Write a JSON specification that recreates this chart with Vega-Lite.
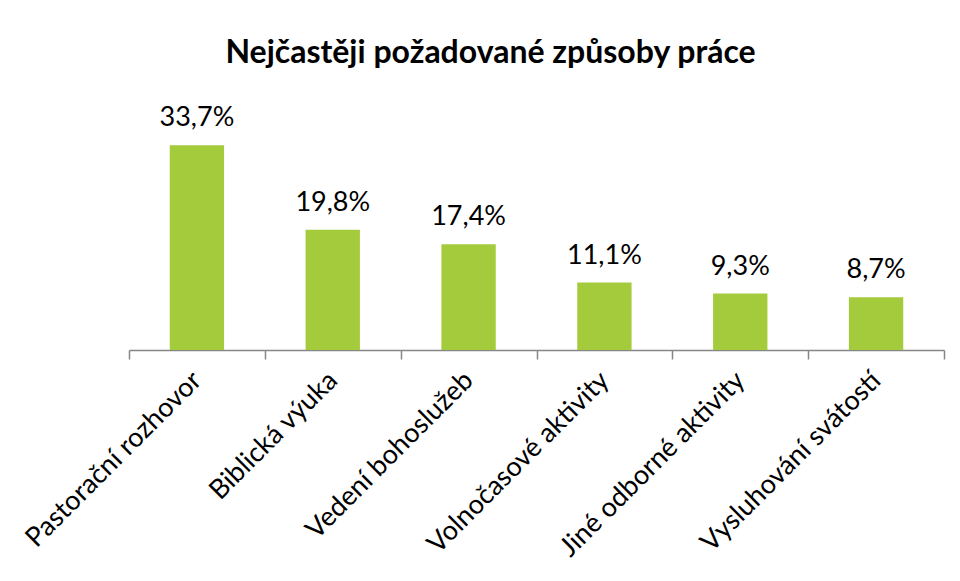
{
  "$schema": "https://vega.github.io/schema/vega-lite/v6.json",
  "autosize": "none",
  "width": 815,
  "height": 243,
  "padding": {"left": 129, "top": 107, "right": 16, "bottom": 231},
  "background": "white",
  "title": {
    "text": "Nejčastěji požadované způsoby práce",
    "font": "Lato",
    "fontSize": 32,
    "fontWeight": "bold",
    "color": "#000000",
    "anchor": "middle",
    "dx": -46,
    "offset": 34
  },
  "data": {
    "values": [
      {"category": "Pastorační rozhovor", "value": 33.7, "label": "33,7%"},
      {"category": "Biblická výuka", "value": 19.8, "label": "19,8%"},
      {"category": "Vedení bohoslužeb", "value": 17.4, "label": "17,4%"},
      {"category": "Volnočasové aktivity", "value": 11.1, "label": "11,1%"},
      {"category": "Jiné odborné aktivity", "value": 9.3, "label": "9,3%"},
      {"category": "Vysluhování svátostí", "value": 8.7, "label": "8,7%"}
    ]
  },
  "encoding": {
    "x": {
      "field": "category",
      "type": "nominal",
      "sort": null,
      "scale": {"paddingInner": 0, "paddingOuter": 0},
      "axis": {
        "title": null,
        "labelAngle": -45,
        "labelAlign": "right",
        "labelBaseline": "middle",
        "labelFont": "Lato",
        "labelFontSize": 27,
        "labelColor": "#000000",
        "labelPadding": 17,
        "ticks": true,
        "tickBand": "extent",
        "tickSize": 9,
        "tickWidth": 1.5,
        "tickColor": "#868686",
        "domainColor": "#868686",
        "domainWidth": 1.5,
        "labelLimit": 400
      }
    },
    "y": {
      "field": "value",
      "type": "quantitative",
      "scale": {"domain": [0, 40]},
      "axis": null
    }
  },
  "layer": [
    {"mark": {"type": "bar", "color": "#A4CB3B", "width": {"band": 0.4}}},
    {
      "mark": {"type": "text", "baseline": "alphabetic", "dy": -19, "font": "Lato", "fontSize": 27, "color": "#000000"},
      "encoding": {"text": {"field": "label"}}
    }
  ],
  "config": {"view": {"stroke": null}}
}
